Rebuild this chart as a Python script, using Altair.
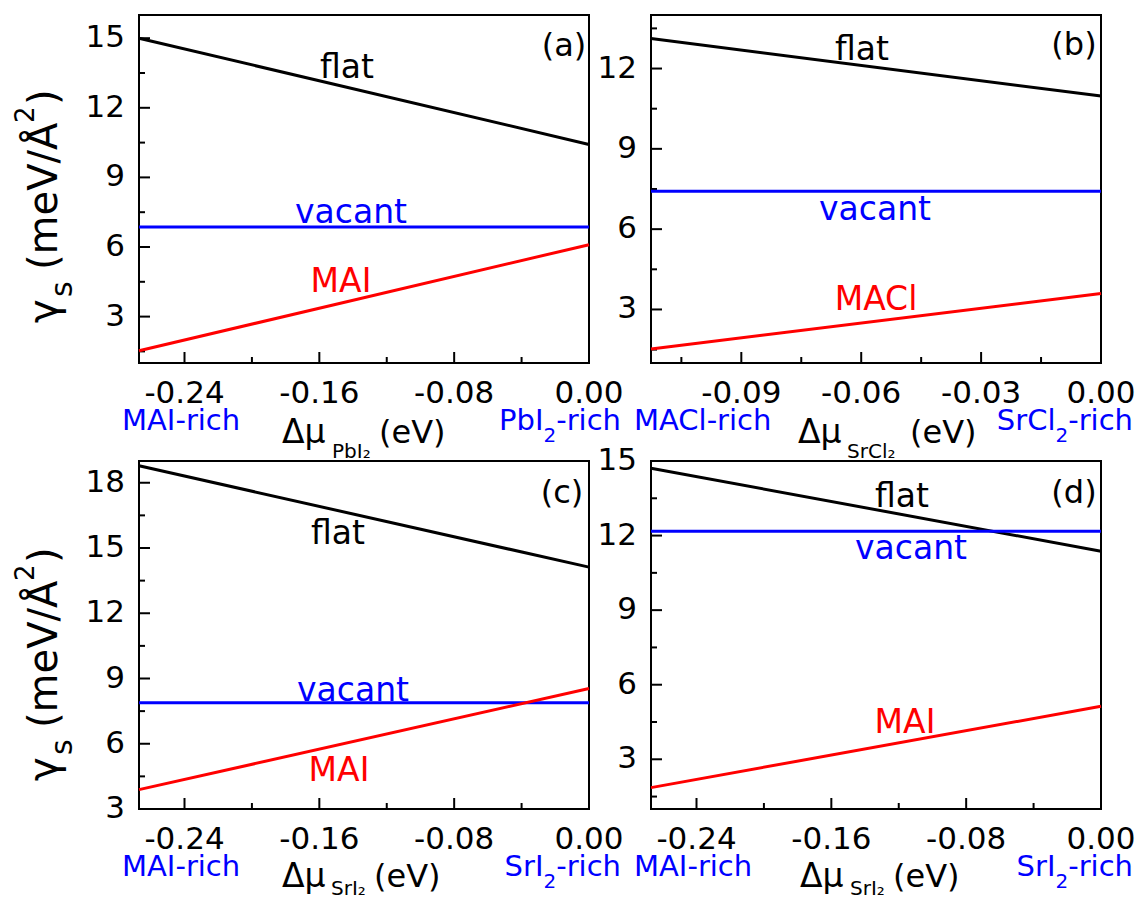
import altair as alt
import pandas as pd

FONT = "DejaVu Sans"
BLUE = "#0000FF"
RED = "#FF0000"
W, H = 450, 348

# ---------------- data ----------------
# panel (a)
A_XDOM = [-0.267, 0.0]
A_YDOM = [1, 16]
A_XTICKS = [-0.24, -0.16, -0.08, 0.0]
A_XLABELS = ["-0.24", "-0.16", "-0.08", "0.00"]
A_XMINOR = [-0.20, -0.12, -0.04]
A_YTICKS = [3, 6, 9, 12, 15]
A_YLABELS = ["3", "6", "9", "12", "15"]
A_YMINOR = [1.5, 4.5, 7.5, 10.5, 13.5]
A_FLAT = [15.0, 10.42]
A_VACANT = [6.86, 6.86]
A_MAI = [1.53, 6.10]

# panel (b)
B_XDOM = [-0.1126, 0.0]
B_YDOM = [1, 14]
B_XTICKS = [-0.09, -0.06, -0.03, 0.0]
B_XLABELS = ["-0.09", "-0.06", "-0.03", "0.00"]
B_XMINOR = [-0.105, -0.075, -0.045, -0.015]
B_YTICKS = [3, 6, 9, 12]
B_YLABELS = ["3", "6", "9", "12"]
B_YMINOR = [1.5, 4.5, 7.5, 10.5, 13.5]
B_FLAT = [13.12, 10.97]
B_VACANT = [7.42, 7.42]
B_MACL = [1.52, 3.60]

# panel (c)
C_XDOM = [-0.267, 0.0]
C_YDOM = [3, 19]
C_XTICKS = [-0.24, -0.16, -0.08, 0.0]
C_XLABELS = ["-0.24", "-0.16", "-0.08", "0.00"]
C_XMINOR = [-0.20, -0.12, -0.04]
C_YTICKS = [3, 6, 9, 12, 15, 18]
C_YLABELS = ["3", "6", "9", "12", "15", "18"]
C_YMINOR = [4.5, 7.5, 10.5, 13.5, 16.5]
C_FLAT = [18.78, 14.12]
C_VACANT = [7.88, 7.88]
C_MAI = [3.89, 8.54]

# panel (d)
D_XDOM = [-0.267, 0.0]
D_YDOM = [1, 15]
D_XTICKS = [-0.24, -0.16, -0.08, 0.0]
D_XLABELS = ["-0.24", "-0.16", "-0.08", "0.00"]
D_XMINOR = [-0.20, -0.12, -0.04]
D_YTICKS = [3, 6, 9, 12, 15]
D_YLABELS = ["3", "6", "9", "12", "15"]
D_YMINOR = [1.5, 4.5, 7.5, 10.5, 13.5]
D_FLAT = [14.71, 11.37]
D_VACANT = [12.17, 12.17]
D_MAI = [1.86, 5.13]


def text_layer(s, x, y, size, color="black", align="left", angle=0, baseline="alphabetic"):
    return alt.Chart(alt.Data(values=[{"k": 1}])).mark_text(
        text=s, font=FONT, fontSize=size, color=color, align=align,
        baseline=baseline, angle=angle,
    ).encode(x=alt.value(x), y=alt.value(y))


def panel(xdom, ydom, xticks, xlabels, xminor, yticks, ylabels, yminor, series, annots,
          sub_name, left_rich, right_main, xt_pos, xt_off, ytitle_dy=None):
    xs = alt.Scale(domain=xdom, nice=False, zero=False)
    ys = alt.Scale(domain=ydom, nice=False, zero=False)

    layers = []
    # inward major / minor ticks
    layers.append(alt.Chart(pd.DataFrame({"v": xticks})).mark_rule(color="black", strokeWidth=2).encode(
        x=alt.X("v:Q", scale=xs, axis=None), y=alt.value(H), y2=alt.value(H - 11)))
    layers.append(alt.Chart(pd.DataFrame({"v": xminor})).mark_rule(color="black", strokeWidth=2).encode(
        x=alt.X("v:Q", scale=xs, axis=None), y=alt.value(H), y2=alt.value(H - 6)))
    layers.append(alt.Chart(pd.DataFrame({"v": yticks})).mark_rule(color="black", strokeWidth=2).encode(
        y=alt.Y("v:Q", scale=ys, axis=None), x=alt.value(0), x2=alt.value(11)))
    layers.append(alt.Chart(pd.DataFrame({"v": yminor})).mark_rule(color="black", strokeWidth=2).encode(
        y=alt.Y("v:Q", scale=ys, axis=None), x=alt.value(0), x2=alt.value(6)))

    # tick labels
    layers.append(alt.Chart(pd.DataFrame({"v": xticks, "t": xlabels})).mark_text(
        font=FONT, fontSize=31, color="black", align="center", baseline="alphabetic").encode(
        x=alt.X("v:Q", scale=xs, axis=None), y=alt.value(H + 40), text="t:N"))
    layers.append(alt.Chart(pd.DataFrame({"v": yticks, "t": ylabels})).mark_text(
        font=FONT, fontSize=31, color="black", align="right", baseline="middle").encode(
        y=alt.Y("v:Q", scale=ys, axis=None), x=alt.value(-14), text="t:N"))

    # series lines
    for name, vals, col in series:
        df = pd.DataFrame({"x": xdom, "y": vals, "s": [name] * len(vals)})
        layers.append(alt.Chart(df).mark_line(strokeWidth=3, color=col).encode(
            x=alt.X("x:Q", scale=xs, axis=None), y=alt.Y("y:Q", scale=ys, axis=None)))

    # in-plot annotations
    for s, x, y, size, col in annots:
        layers.append(text_layer(s, x, y, size, col, align="center"))

    # x-axis composite title
    x0, x1, x2 = xt_pos
    main_off, sub_off = xt_off
    layers.append(text_layer("\u0394\u03bc", x0, H + main_off, 33))
    layers.append(text_layer(sub_name, x1, H + sub_off, 20))
    layers.append(text_layer("(eV)", x2, H + main_off, 32))

    # rich labels
    layers.append(text_layer(left_rich, -17, H + 67, 29, BLUE))
    rich_end = 482
    w_rich = 2.234 * 29
    w_two = 0.636 * 20
    layers.append(text_layer("-rich", rich_end, H + 67, 29, BLUE, align="right"))
    layers.append(text_layer("2", rich_end - w_rich, H + 79, 20, BLUE, align="right"))
    layers.append(text_layer(right_main, rich_end - w_rich - w_two, H + 67, 29, BLUE, align="right"))

    # y-axis composite title
    if ytitle_dy is not None:
        d = ytitle_dy
        layers.append(text_layer("\u03b3", -82, 308 + d, 40, angle=270))
        layers.append(text_layer("s", -67, 282 + d, 30, angle=270))
        layers.append(text_layer("(meV/\u00c5", -82, 255 + d, 40, angle=270))
        layers.append(text_layer("2", -105, 108 + d, 26, angle=270))
        layers.append(text_layer(")", -82, 90 + d, 40, angle=270))

    return alt.layer(*layers).properties(width=W, height=H)


pa = panel(A_XDOM, A_YDOM, A_XTICKS, A_XLABELS, A_XMINOR, A_YTICKS, A_YLABELS, A_YMINOR,
           [("flat", A_FLAT, "black"), ("vacant", A_VACANT, BLUE), ("MAI", A_MAI, RED)],
           [("flat", 208, 63, 33, "black"), ("vacant", 212, 208, 33, BLUE),
            ("MAI", 202, 277, 33, RED), ("(a)", 425, 41, 32, "black")],
           "PbI\u2082", "MAI-rich", "PbI", (143, 193, 240), (80, 95), ytitle_dy=0)

pb = panel(B_XDOM, B_YDOM, B_XTICKS, B_XLABELS, B_XMINOR, B_YTICKS, B_YLABELS, B_YMINOR,
           [("flat", B_FLAT, "black"), ("vacant", B_VACANT, BLUE), ("MACl", B_MACL, RED)],
           [("flat", 211, 45, 33, "black"), ("vacant", 224, 205, 33, BLUE),
            ("MACl", 225, 295, 33, RED), ("(b)", 423, 40, 32, "black")],
           "SrCl\u2082", "MACl-rich", "SrCl", (147, 196, 259), (80, 95))

pc = panel(C_XDOM, C_YDOM, C_XTICKS, C_XLABELS, C_XMINOR, C_YTICKS, C_YLABELS, C_YMINOR,
           [("flat", C_FLAT, "black"), ("vacant", C_VACANT, BLUE), ("MAI", C_MAI, RED)],
           [("flat", 199, 83, 33, "black"), ("vacant", 214, 240, 33, BLUE),
            ("MAI", 200, 320, 33, RED), ("(c)", 423, 42, 32, "black")],
           "SrI\u2082", "MAI-rich", "SrI", (143, 192, 235), (78, 86), ytitle_dy=12)

pd_ = panel(D_XDOM, D_YDOM, D_XTICKS, D_XLABELS, D_XMINOR, D_YTICKS, D_YLABELS, D_YMINOR,
            [("flat", D_FLAT, "black"), ("vacant", D_VACANT, BLUE), ("MAI", D_MAI, RED)],
            [("flat", 251, 46, 33, "black"), ("vacant", 260, 98, 33, BLUE),
             ("MAI", 254, 272, 33, RED), ("(d)", 423, 42, 32, "black")],
            "SrI\u2082", "MAI-rich", "SrI", (149, 199, 242), (78, 86))

chart = alt.concat(
    pa, pb, pc, pd_, columns=2, spacing={"row": 98, "column": 62}, bounds="flush"
).properties(
    autosize=alt.AutoSizeParams(type="none"),
    padding={"left": 131, "top": 7, "right": 996, "bottom": 885},
).configure_view(stroke="black", strokeWidth=2)

chart.save("out.html", embed_options={"renderer": "svg", "actions": False})
